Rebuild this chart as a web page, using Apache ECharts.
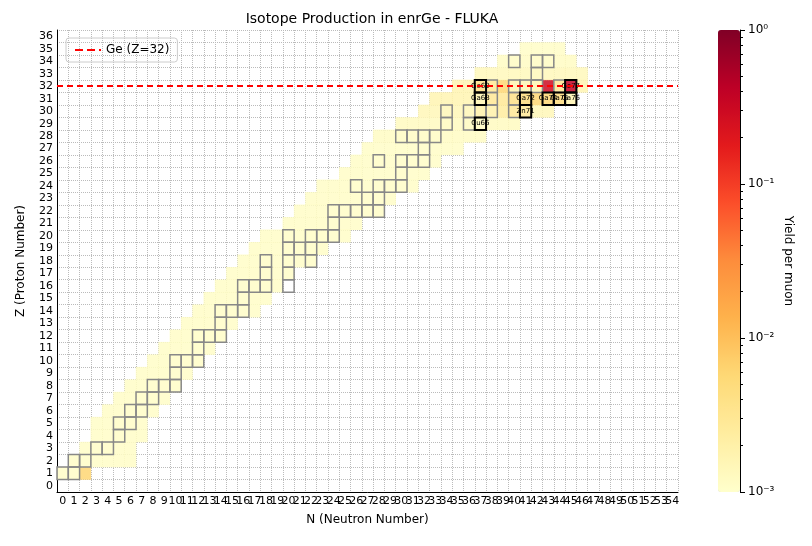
<!DOCTYPE html>
<html><head><meta charset="utf-8">
<script src="https://cdn.jsdelivr.net/npm/echarts@6/dist/echarts.min.js"></script>
<style>html,body{margin:0;padding:0;background:#fff}#c{width:812px;height:546px}</style>
</head><body><div id="c"></div>
<script>
const nLabels = Array.from({length:55},(_,i)=>String(i));
const zLabels = Array.from({length:37},(_,i)=>String(i));
// yield band per Z: [Z, minN, maxN, typical yield]
const bandRanges = [
[1,0,2,0.0011],[2,1,6,0.0011],[3,2,6,0.0011],[4,3,7,0.0011],[5,3,7,0.0011],[6,4,8,0.0011],
[7,5,9,0.0011],[8,6,10,0.0011],[9,7,11,0.0011],[10,8,12,0.0011],[11,9,13,0.0011],[12,10,14,0.0011],
[13,11,15,0.0011],[14,12,17,0.0011],[15,13,18,0.0011],[16,14,19,0.0011],[17,15,20,0.0011],[18,16,22,0.0011],
[19,17,23,0.0011],[20,18,25,0.0011],[21,20,26,0.0011],[22,21,28,0.0011],[23,22,29,0.0011],[24,23,31,0.0011],
[25,25,32,0.0011],[26,26,33,0.0011],[27,27,35,0.0011],[28,28,37,0.0012],[29,30,40,0.0013],[30,32,43,0.0015],
[31,33,45,0.0017],[32,35,46,0.0017],[33,37,46,0.0014],[34,39,45,0.0012],[35,41,44,0.0011]];
// individually read cells: [N, Z, yield]
const hotCells = [
[2,1,0.006],[39,32,0.006],[37,32,0.004],[38,32,0.003],[43,32,0.3],[45,32,0.4],[44,32,0.003],
[40,31,0.004],[41,31,0.005],[42,31,0.006],[43,31,0.006],[44,31,0.005],[39,31,0.003],[38,31,0.003],
[39,30,0.0025],[40,30,0.003],[41,30,0.003],[37,30,0.002],[38,30,0.002]];
// stable isotopes [N, Z]
const stable = [
[0,1],[1,1],[1,2],[2,2],[3,3],[4,3],[5,4],[5,5],[6,5],[6,6],[7,6],[7,7],[8,7],[8,8],[9,8],[10,8],[10,9],
[10,10],[11,10],[12,10],[12,11],[12,12],[13,12],[14,12],[14,13],[14,14],[15,14],[16,14],[16,15],
[16,16],[17,16],[18,16],[20,16],[18,17],[20,17],[18,18],[20,18],[22,18],[20,19],[21,19],[22,19],
[20,20],[22,20],[23,20],[24,20],[24,21],[24,22],[25,22],[26,22],[27,22],[28,22],[27,23],[28,23],
[26,24],[28,24],[29,24],[30,24],[30,25],[28,26],[30,26],[31,26],[32,26],[32,27],[30,28],[31,28],[32,28],[33,28],
[34,29],[36,29],[34,30],[36,30],[37,30],[38,30],[40,30],[38,31],[40,31],[38,32],[40,32],[41,32],[42,32],[44,32],
[42,33],[40,34],[42,34],[43,34]];
// highlighted isotopes [N, Z, label]
const marked = [[37,32,'Ge69'],[37,31,'Ga68'],[37,29,'Cu66'],[41,31,'Ga72'],[41,30,'Zn71'],
[43,31,'Ga74'],[44,31,'Ga75'],[45,31,'Ga76'],[45,32,'Ge77']];

const cellMap = {};
bandRanges.forEach(([z,a,b,v])=>{for(let n=a;n<=b;n++) cellMap[n+'_'+z]=v;});
hotCells.forEach(([n,z,v])=>{cellMap[n+'_'+z]=v;});
const heat = Object.keys(cellMap).map(k=>{const [n,z]=k.split('_').map(Number);return [n,z,Math.log10(cellMap[k])];});

const chart = echarts.init(document.getElementById('c'));
const boxRender = (color,width,withLabel)=>function(params,api){
  const p = api.coord([api.value(0),api.value(1)]);
  const s = api.size([1,1]);
  const children=[{type:'rect',shape:{x:p[0]-s[0]/2,y:p[1]-s[1]/2,width:s[0],height:s[1]},
    style:{fill:'none',stroke:color,lineWidth:width}}];
  if(withLabel) children.push({type:'text',style:{text:marked[params.dataIndex][2],x:p[0],y:p[1],
    align:'center',verticalAlign:'middle',font:'7px DejaVu Sans',fill:'#000'}});
  return {type:'group',children};
};
const sup = {'0':'⁰','1':'¹','2':'²','3':'³','-':'⁻'};
chart.setOption({
  animation:false,
  textStyle:{fontFamily:'DejaVu Sans'},
  title:{text:'Isotope Production in enrGe - FLUKA',left:367,top:7,textAlign:'center',
    textStyle:{fontSize:14,fontWeight:'normal',color:'#000'}},
  legend:{left:66,top:38,orient:'vertical',itemWidth:26,itemHeight:2,borderColor:'#ccc',borderWidth:1,
    borderRadius:3,padding:[6,8],textStyle:{fontSize:12,color:'#000'},data:['Ge (Z=32)']},
  grid:[{left:57,right:134,top:30,bottom:54},{left:718,width:22,top:30,bottom:54}],
  xAxis:[{type:'category',data:nLabels,gridIndex:0,name:'N (Neutron Number)',nameLocation:'middle',nameGap:22,
    nameTextStyle:{fontSize:12,color:'#000'},
    axisLine:{lineStyle:{color:'#000'}},axisTick:{alignWithLabel:true,lineStyle:{color:'#000'}},
    axisLabel:{interval:0,fontSize:11,color:'#000',margin:4},
    splitLine:{show:true,lineStyle:{color:'#bbb',type:'dotted'}}},
    {type:'category',gridIndex:1,data:['a'],show:false}],
  yAxis:[{type:'category',data:zLabels,gridIndex:0,name:'Z (Proton Number)',nameLocation:'middle',nameGap:30,
    nameTextStyle:{fontSize:12,color:'#000'},
    axisLine:{lineStyle:{color:'#000'}},axisTick:{alignWithLabel:true,lineStyle:{color:'#000'}},
    axisLabel:{interval:0,fontSize:11,color:'#000',margin:4},
    splitLine:{show:true,lineStyle:{color:'#bbb',type:'dotted'}}},
    {type:'log',gridIndex:1,min:0.001,max:1,position:'right',logBase:10,
     name:'Yield per muon',nameLocation:'middle',nameGap:42,nameRotate:-90,
     nameTextStyle:{fontSize:12,color:'#000'},
     axisLine:{show:true,lineStyle:{color:'#000'}},axisTick:{show:true,lineStyle:{color:'#000'}},
     minorTick:{show:true,splitNumber:9,lineStyle:{color:'#000'}},splitLine:{show:false},
     axisLabel:{fontSize:12,color:'#000',formatter:v=>{const e=Math.round(Math.log10(v));return '10'+String(e).split('').map(c=>sup[c]).join('');}}}],
  visualMap:{type:'continuous',min:-3,max:0,seriesIndex:0,calculable:false,show:true,
    left:718,top:30,itemWidth:22,itemHeight:462,padding:0,text:['',''],showLabel:false,
    inRange:{color:['#ffffcc','#ffeda0','#fed976','#feb24c','#fd8d3c','#fc4e2a','#e31a1c','#bd0026','#800026']}},
  series:[
    {type:'heatmap',data:heat,xAxisIndex:0,yAxisIndex:0,itemStyle:{opacity:0.85}},
    {type:'custom',data:stable,renderItem:boxRender('#888',1.5,false),xAxisIndex:0,yAxisIndex:0,z:3},
    {type:'custom',data:marked.map(m=>[m[0],m[1]]),renderItem:boxRender('#000',2,true),xAxisIndex:0,yAxisIndex:0,z:4},
    {type:'line',name:'Ge (Z=32)',data:[],xAxisIndex:0,yAxisIndex:0,color:'#ff0000',
     lineStyle:{type:'dashed',width:2},symbol:'none',
     markLine:{silent:true,symbol:'none',label:{show:false},lineStyle:{color:'#ff0000',type:[6,4],width:2},data:[{yAxis:'32'}]}}
  ]
});
</script></body></html>
